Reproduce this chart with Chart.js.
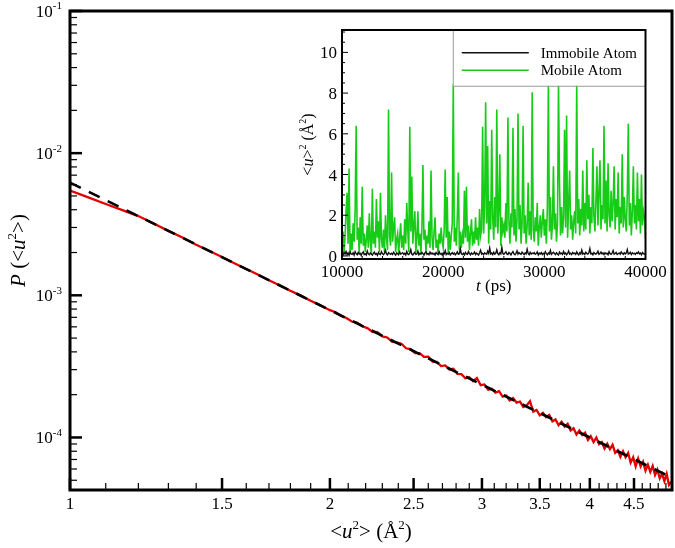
<!DOCTYPE html>
<html>
<head>
<meta charset="utf-8">
<script src="https://cdn.jsdelivr.net/npm/chart.js@4.4.1/dist/chart.umd.min.js"></script>
<style>
  html, body { margin: 0; padding: 0; background: #fff; }
  #wrap { position: relative; width: 675px; height: 548px; }
  #main { position: absolute; left: 0; top: 0; }
  #inset { position: absolute; left: 290px; top: 20px; }
</style>
</head>
<body>
<div id="wrap">
  <canvas id="main" width="675" height="548"></canvas>
  <canvas id="inset" width="385" height="285"></canvas>
</div>
<script>
// ---- main plot data: P(<u2>) vs <u2> ----
const redX = [1.00, 1.05, 1.10, 1.15, 1.20, 1.25, 1.30, 1.35, 1.40, 1.45, 1.50, 1.55, 1.60, 1.65, 1.70, 1.75, 1.80, 1.85, 1.90, 1.95, 2.00,
  2.03, 2.06, 2.09, 2.12, 2.15, 2.18, 2.21, 2.24, 2.27, 2.30, 2.33, 2.36, 2.39, 2.42, 2.45, 2.48, 2.51, 2.54, 2.57, 2.60,
  2.63, 2.66, 2.69, 2.72, 2.75, 2.78, 2.81, 2.84, 2.87, 2.90, 2.93, 2.96, 2.99, 3.02, 3.05, 3.08, 3.11, 3.14, 3.17, 3.20,
  3.23, 3.26, 3.29, 3.32, 3.35, 3.38, 3.41, 3.44, 3.47, 3.50, 3.53, 3.56, 3.59, 3.62, 3.65, 3.68, 3.71, 3.74, 3.77, 3.80,
  3.83, 3.86, 3.89, 3.92, 3.95, 3.98, 4.01, 4.04, 4.07, 4.10, 4.13, 4.16, 4.19, 4.22, 4.25, 4.28, 4.31, 4.34, 4.37, 4.40,
  4.43, 4.46, 4.49, 4.52, 4.55, 4.58, 4.61, 4.64, 4.67, 4.70, 4.73, 4.76, 4.79, 4.82, 4.85, 4.88, 4.91, 4.94, 4.97];
const redP = [5.46e-3, 4.88e-3, 4.39e-3, 3.97e-3, 3.61e-3, 3.20e-3, 2.84e-3, 2.55e-3, 2.27e-3, 2.05e-3, 1.86e-3, 1.68e-3, 1.53e-3, 1.40e-3, 1.275e-3, 1.173e-3, 1.076e-3, 9.95e-4, 9.15e-4, 8.50e-4, 7.86e-4,
  7.60e-4, 7.16e-4, 6.93e-4, 6.54e-4, 6.43e-4, 6.06e-4, 5.88e-4, 5.54e-4, 5.50e-4, 5.14e-4, 5.05e-4, 4.72e-4, 4.67e-4, 4.56e-4, 4.24e-4, 4.18e-4, 3.92e-4, 3.92e-4, 3.69e-4, 3.70e-4,
  3.42e-4, 3.40e-4, 3.18e-4, 3.21e-4, 3.01e-4, 3.04e-4, 2.80e-4, 2.79e-4, 2.61e-4, 2.65e-4, 2.49e-4, 2.62e-4, 2.33e-4, 2.36e-4, 2.17e-4, 2.20e-4, 2.07e-4, 2.12e-4, 1.94e-4, 1.97e-4,
  1.82e-4, 1.89e-4, 1.76e-4, 1.79e-4, 1.64e-4, 1.68e-4, 1.80e-4, 1.52e-4, 1.56e-4, 1.43e-4, 1.49e-4, 1.39e-4, 1.44e-4, 1.30e-4, 1.34e-4, 1.22e-4, 1.29e-4, 1.19e-4, 1.25e-4, 1.12e-4,
  1.16e-4, 1.05e-4, 1.12e-4, 1.04e-4, 1.08e-4, 9.62e-5, 1.02e-4, 9.29e-5, 1.00e-4, 8.97e-5, 9.28e-5, 8.36e-5, 9.03e-5, 8.27e-5, 8.88e-5, 7.79e-5, 8.13e-5, 7.30e-5, 7.99e-5, 7.25e-5,
  7.78e-5, 6.65e-5, 7.26e-5, 6.25e-5, 7.11e-5, 6.25e-5, 6.76e-5, 5.84e-5, 6.43e-5, 5.73e-5, 6.31e-5, 5.44e-5, 5.94e-5, 5.16e-5, 5.55e-5, 4.92e-5, 5.54e-5, 4.63e-5, 4.87e-5];
// fitted power law (dashed), end points
const fitX = [1.0, 4.98];
const fitP = [6.21e-3, 5.2e-5];

const xMajor = [1, 1.5, 2, 2.5, 3, 3.5, 4, 4.5];
const xMinor = [1.1, 1.2, 1.3, 1.4, 1.6, 1.7, 1.8, 1.9, 2.1, 2.2, 2.3, 2.4, 2.6, 2.7, 2.8, 2.9, 3.1, 3.2, 3.3, 3.4,
  3.6, 3.7, 3.8, 3.9, 4.1, 4.2, 4.3, 4.4, 4.6, 4.7, 4.8, 4.9];
const yExp = [-1, -2, -3, -4];

// ---- inset data: <u>^2 vs t, sampled every 100 ps from 10000 ps ----
const tStart = 10000, tStep = 100;
const mobile = [
  0.4, 1.2, 0.2, 0.9, 2.2, 3.1, 0.6, 4.3, 0.1, 1.1,
  0.3, 1.6, 0.7, 2.3, 6.4, 0.8, 1.4, 0.1, 1.9, 0.6,
  3.4, 0.5, 1.1, 0.2, 0.8, 1.5, 0.4, 2.1, 0.7, 0.1,
  3.3, 0.6, 1.2, 0.4, 2.8, 0.9, 1.7, 0.2, 3.1, 0.8,
  0.4, 1.3, 0.2, 2.0, 0.9, 0.3, 7.2, 1.0, 0.5, 4.1,
  0.7, 1.4, 1.9, 0.2, 0.8, 1.1, 0.1, 0.9, 1.6, 0.4,
  1.0, 0.3, 1.8, 0.6, 2.6, 1.3, 0.2, 6.35, 1.2, 3.9,
  0.6, 1.5, 2.2, 0.2, 0.9, 2.2, 0.5, 1.1, 0.1, 1.4,
  4.47, 0.8, 1.3, 0.2, 1.0, 0.6, 1.7, 0.4, 4.2, 0.9,
  0.3, 1.2, 1.9, 0.4, 0.8, 0.1, 1.1, 0.6, 1.4, 0.7,
  0.4, 1.3, 4.25, 0.9, 2.9, 0.2, 1.2, 0.3, 1.0, 1.6,
  8.45, 0.7, 1.4, 0.5, 2.0, 4.1, 0.3, 1.2, 0.4, 1.0,
  0.6, 3.2, 0.9, 3.4, 0.7, 1.5, 0.3, 1.1, 1.8, 0.5,
  1.2, 0.6, 1.9, 0.8, 1.4, 0.5, 2.3, 1.0, 1.3, 6.35,
  1.1, 2.4, 7.55, 1.6, 5.4, 0.6, 2.7, 1.3, 6.2, 1.8,
  0.8, 2.9, 1.4, 7.2, 1.1, 2.2, 5.0, 0.5, 1.9, 1.2,
  1.5, 0.9, 2.6, 1.2, 6.8, 1.7, 0.6, 2.1, 1.4, 6.3,
  1.0, 2.3, 0.7, 1.8, 7.0, 1.3, 2.5, 0.6, 1.6, 6.4,
  1.1, 2.0, 0.6, 1.5, 3.6, 1.0, 2.2, 0.8, 8.04, 1.3,
  0.7, 1.9, 1.2, 2.6, 0.5, 1.4, 2.0, 0.9, 1.7, 2.3,
  1.0, 1.8, 0.6, 2.4, 8.45, 1.2, 2.9, 0.8, 1.5, 4.4,
  1.3, 2.1, 0.7, 1.6, 8.45, 3.6, 1.0, 2.4, 1.1, 1.9,
  6.2, 1.4, 6.9, 0.9, 2.5, 4.2, 1.3, 2.0, 0.8, 1.7,
  2.2, 1.1, 8.45, 1.6, 2.8, 1.0, 2.3, 1.5, 4.2, 1.2,
  2.6, 1.3, 4.7, 1.8, 3.0, 1.1, 2.4, 1.6, 5.3, 2.0,
  1.2, 2.7, 4.4, 1.5, 3.1, 4.7, 1.3, 2.5, 1.8, 6.4,
  1.6, 3.7, 1.2, 4.55, 2.0, 1.4, 3.2, 1.7, 2.6, 4.4,
  1.3, 2.8, 1.9, 4.1, 1.1, 2.4, 1.6, 5.0, 1.4, 2.9,
  1.8, 1.2, 3.0, 6.5, 1.5, 2.6, 1.0, 2.2, 4.4, 1.6,
  2.5, 1.3, 4.1, 1.7, 2.8, 1.1, 4.0, 1.5, 2.2, 1.9,
  0.9];
const immobile = [
  0.12, 0.05, 0.18, 0.09, 0.22, 0.07, 0.15, 0.03, 0.19, 0.1,
  0.08, 0.16, 0.04, 0.21, 0.11, 0.06, 0.17, 0.09, 0.13, 0.02,
  0.14, 0.2, 0.07, 0.11, 0.05, 0.24, 0.1, 0.06, 0.15, 0.09,
  0.04, 0.13, 0.19, 0.08, 0.12, 0.03, 0.17, 0.1, 0.07, 0.21,
  0.11, 0.06, 0.14, 0.28, 0.09, 0.05, 0.16, 0.12, 0.08, 0.13,
  0.07, 0.18, 0.1, 0.04, 0.15, 0.11, 0.06, 0.2, 0.09, 0.12,
  0.16, 0.08, 0.13, 0.05, 0.22, 0.1, 0.07, 0.14, 0.31, 0.09,
  0.05, 0.12, 0.18, 0.08, 0.1, 0.24, 0.06, 0.13, 0.09, 0.17,
  0.11, 0.04, 0.15, 0.2, 0.08, 0.12, 0.06, 0.19, 0.1, 0.14,
  0.08, 0.13, 0.05, 0.17, 0.11, 0.07, 0.21, 0.09, 0.12, 0.04,
  0.15, 0.1, 0.26, 0.07, 0.13, 0.09, 0.18, 0.05, 0.11, 0.16,
  0.09, 0.14, 0.06, 0.12, 0.2, 0.08, 0.11, 0.35, 0.1, 0.07,
  0.13, 0.05, 0.17, 0.1, 0.08, 0.22, 0.12, 0.06, 0.15, 0.09,
  0.11, 0.19, 0.07, 0.14, 0.1, 0.05, 0.16, 0.28, 0.09, 0.13,
  0.06, 0.15, 0.11, 0.08, 0.23, 0.12, 0.39, 0.1, 0.14, 0.07,
  0.18, 0.09, 0.13, 0.3, 0.11, 0.06, 0.16, 0.1, 0.42, 0.12,
  0.08, 0.14, 0.2, 0.1, 0.07, 0.17, 0.12, 0.05, 0.15, 0.21,
  0.1, 0.06, 0.13, 0.25, 0.09, 0.16, 0.11, 0.08, 0.19, 0.12,
  0.07, 0.15, 0.1, 0.33, 0.12, 0.06, 0.18, 0.09, 0.14, 0.11,
  0.16, 0.08, 0.12, 0.2, 0.05, 0.14, 0.1, 0.17, 0.07, 0.13,
  0.09, 0.21, 0.11, 0.06, 0.15, 0.1, 0.27, 0.08, 0.13, 0.18,
  0.12, 0.07, 0.16, 0.1, 0.05, 0.19, 0.11, 0.14, 0.08, 0.22,
  0.1, 0.15, 0.06, 0.12, 0.24, 0.09, 0.13, 0.07, 0.17, 0.11,
  0.14, 0.08, 0.2, 0.11, 0.06, 0.16, 0.1, 0.29, 0.09, 0.13,
  0.07, 0.18, 0.12, 0.09, 0.15, 0.36, 0.1, 0.13, 0.06, 0.17,
  0.11, 0.09, 0.14, 0.23, 0.08, 0.12, 0.19, 0.1, 0.15, 0.07,
  0.16, 0.1, 0.13, 0.06, 0.21, 0.11, 0.08, 0.14, 0.26, 0.09,
  0.12, 0.17, 0.07, 0.11, 0.15, 0.09, 0.2, 0.13, 0.08, 0.16,
  0.1, 0.14, 0.31, 0.09, 0.12, 0.18, 0.07, 0.15, 0.11, 0.13,
  0.08, 0.16, 0.12, 0.2, 0.1, 0.14, 0.06, 0.17, 0.11, 0.09,
  0.12];
const tMajor = [10000, 20000, 30000, 40000];
const uMajor = [0, 2, 4, 6, 8, 10];
const seriesNames = ['Immobile Atom', 'Mobile Atom'];

const FONT = '"Liberation Serif", "Times New Roman", serif';

// draws a run of text pieces: [text, flags] where flags has 'i' (italic) and/or 's' (superscript)
function richText(ctx, parts, x, y, size, align) {
  const fontOf = (p) => {
    const f = p[1] || '';
    const sz = f.includes('s') ? Math.round(size * 0.62) : size;
    return (f.includes('i') ? 'italic ' : '') + sz + 'px ' + FONT;
  };
  let w = 0;
  parts.forEach(p => { ctx.font = fontOf(p); w += ctx.measureText(p[0]).width; });
  let cx = align === 'center' ? x - w / 2 : (align === 'right' ? x - w : x);
  ctx.textAlign = 'left';
  ctx.textBaseline = 'alphabetic';
  parts.forEach(p => {
    ctx.font = fontOf(p);
    const dy = (p[1] || '').includes('s') ? -size * 0.45 : 0;
    ctx.fillText(p[0], cx, y + dy);
    cx += ctx.measureText(p[0]).width;
  });
}

function seg(ctx, x1, y1, x2, y2) {
  ctx.beginPath(); ctx.moveTo(x1, y1); ctx.lineTo(x2, y2); ctx.stroke();
}

const mainAxes = {
  id: 'mainAxes',
  afterDraw(chart) {
    const { ctx, chartArea: a, scales: { x, y } } = chart;
    ctx.save();
    ctx.strokeStyle = '#000';
    ctx.fillStyle = '#000';
    // x ticks (inward)
    ctx.lineWidth = 1.2;
    xMinor.forEach(v => { const px = x.getPixelForValue(v); seg(ctx, px, a.bottom, px, a.bottom - 7); });
    ctx.lineWidth = 2.5;
    xMajor.forEach(v => { const px = x.getPixelForValue(v); seg(ctx, px, a.bottom, px, a.bottom - 12); });
    // y ticks
    ctx.lineWidth = 1.2;
    yExp.forEach(e => {
      for (let m = 2; m <= 9; m++) {
        const v = m * Math.pow(10, e - 1);
        if (v < y.min || v > y.max) continue;
        const py = y.getPixelForValue(v);
        seg(ctx, a.left, py, a.left + 7, py);
      }
    });
    ctx.lineWidth = 2.5;
    yExp.forEach(e => { const py = y.getPixelForValue(Math.pow(10, e)); seg(ctx, a.left, py, a.left + 12, py); });
    // frame
    ctx.lineWidth = 3;
    ctx.strokeRect(a.left, a.top, a.right - a.left, a.bottom - a.top);
    // tick labels
    xMajor.forEach(v => richText(ctx, [[String(v)]], x.getPixelForValue(v), a.bottom + 19, 17, 'center'));
    yExp.forEach(e => richText(ctx, [['10'], [String(e), 's']], a.left - 8, y.getPixelForValue(Math.pow(10, e)) + 6, 17, 'right'));
    // axis titles
    richText(ctx, [['<'], ['u', 'i'], ['2', 's'], ['> (Å'], ['2', 's'], [')']], (a.left + a.right) / 2, 538, 21, 'center');
    ctx.save();
    ctx.translate(25, (a.top + a.bottom) / 2);
    ctx.rotate(-Math.PI / 2);
    richText(ctx, [['P', 'i'], [' (<'], ['u', 'i'], ['2', 's'], ['>)']], 0, 0, 21, 'center');
    ctx.restore();
    ctx.restore();
  }
};

new Chart(document.getElementById('main'), {
  type: 'line',
  data: {
    datasets: [
      {
        data: fitX.map((v, i) => ({ x: v, y: fitP[i] })),
        borderColor: '#000', borderWidth: 2.6, borderDash: [12, 9], pointRadius: 0
      },
      {
        data: redX.map((v, i) => ({ x: v, y: redP[i] })),
        borderColor: 'rgb(226,0,0)', borderWidth: 2.3, pointRadius: 0
      }
    ]
  },
  options: {
    responsive: false, animation: false, devicePixelRatio: 1,
    layout: { padding: { left: 70, top: 11, right: 3, bottom: 58 } },
    plugins: { legend: { display: false }, tooltip: { enabled: false } },
    scales: {
      x: { type: 'logarithmic', min: 1, max: 4.98, display: false },
      y: { type: 'logarithmic', min: 4.27e-5, max: 0.1, display: false }
    }
  },
  plugins: [mainAxes]
});

// ---- inset ----
const insetAxes = {
  id: 'insetAxes',
  beforeDraw(chart) {
    const { ctx, chartArea: a } = chart;
    ctx.save();
    ctx.fillStyle = '#fff';
    ctx.fillRect(a.left, a.top, a.right - a.left, a.bottom - a.top);
    ctx.restore();
  },
  afterDraw(chart) {
    const { ctx, chartArea: a, scales: { x, y } } = chart;
    ctx.save();
    ctx.strokeStyle = '#000';
    ctx.fillStyle = '#000';
    ctx.lineWidth = 1;
    // minor / major ticks
    for (let t = tMajor[0]; t <= tMajor[tMajor.length - 1]; t += 2000) {
      const px = x.getPixelForValue(t);
      seg(ctx, px, a.bottom, px, a.bottom - (tMajor.includes(t) ? 6 : 3));
    }
    for (let u = 0; u <= 11; u += 0.5) {
      const py = y.getPixelForValue(u);
      seg(ctx, a.left, py, a.left + (uMajor.includes(u) ? 6 : 3), py);
    }
    // legend box
    const lx = x.getPixelForValue(20950), ly = y.getPixelForValue(8.36);
    ctx.fillStyle = '#fff';
    ctx.fillRect(lx, a.top, a.right - lx, ly - a.top);
    ctx.strokeStyle = '#9a9a9a';
    ctx.lineWidth = 1;
    seg(ctx, lx + 0.5, a.top, lx + 0.5, ly + 0.5);
    seg(ctx, lx, ly + 0.5, a.right, ly + 0.5);
    const ds = chart.data.datasets;
    ds.forEach((d, i) => {
      const yy = a.top + 22.7 + i * 17.6;
      ctx.strokeStyle = d.borderColor;
      ctx.lineWidth = 1.5;
      seg(ctx, lx + 9, yy, lx + 76, yy);
      ctx.fillStyle = '#000';
      richText(ctx, [[seriesNames[i]]], lx + 88, yy + 5, 15, 'left');
    });
    // frame
    ctx.strokeStyle = '#000';
    ctx.lineWidth = 2;
    ctx.strokeRect(a.left, a.top, a.right - a.left, a.bottom - a.top);
    // labels
    ctx.fillStyle = '#000';
    tMajor.forEach(t => richText(ctx, [[String(t)]], x.getPixelForValue(t), a.bottom + 18, 17, 'center'));
    uMajor.forEach(u => richText(ctx, [[String(u)]], a.left - 5, y.getPixelForValue(u) + 6, 17, 'right'));
    richText(ctx, [['t', 'i'], [' (ps)']], (a.left + a.right) / 2, a.bottom + 32, 17, 'center');
    ctx.save();
    ctx.translate(23, (a.top + a.bottom) / 2);
    ctx.rotate(-Math.PI / 2);
    richText(ctx, [['<'], ['u', 'i'], ['>'], ['2', 's'], [' (Å'], ['2', 's'], [')']], 0, 0, 16, 'center');
    ctx.restore();
    ctx.restore();
  }
};

new Chart(document.getElementById('inset'), {
  type: 'line',
  data: {
    datasets: [
      {
        label: seriesNames[0],
        data: immobile.map((v, i) => ({ x: tStart + i * tStep, y: v })),
        borderColor: '#111', borderWidth: 1.4, pointRadius: 0
      },
      {
        label: seriesNames[1],
        data: mobile.map((v, i) => ({ x: tStart + i * tStep, y: v })),
        borderColor: 'rgb(22,204,22)', borderWidth: 1.6, pointRadius: 0
      }
    ]
  },
  options: {
    responsive: false, animation: false, devicePixelRatio: 1,
    layout: { padding: { left: 52, top: 10, right: 29.5, bottom: 46 } },
    plugins: { legend: { display: false }, tooltip: { enabled: false } },
    scales: {
      x: { type: 'linear', min: 10000, max: 40000, display: false },
      y: { type: 'linear', min: -0.15, max: 11.1, display: false }
    }
  },
  plugins: [insetAxes]
});
</script>
</body>
</html>
